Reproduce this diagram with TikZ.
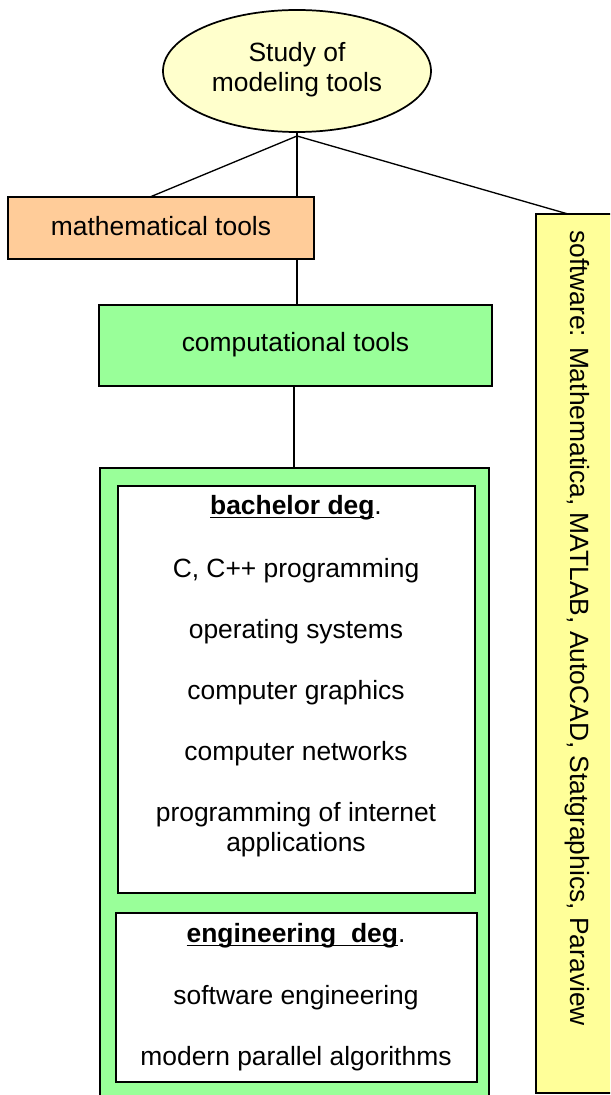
\documentclass[tikz,border=0pt]{standalone}
\usepackage{fontspec}
\setmainfont{Liberation Sans}
\usetikzlibrary{shapes.geometric,backgrounds}
\definecolor{rootfill}{HTML}{FFFFCC}
\definecolor{mathfill}{HTML}{FFCC99}
\definecolor{compfill}{HTML}{99FF99}
\definecolor{softfill}{HTML}{FFFF99}
% bold heading with a heavy underline drawn through the descenders
\newcommand{\headline}[1]{\leavevmode\rlap{\rule[-2.6pt]{\widthof{\textbf{#1}}}{1.2pt}}\textbf{#1}}
\usepackage{calc}
\tikzset{
  every node/.style={font=\fontsize{19.8pt}{22.5pt}\selectfont, inner sep=0pt},
  box/.style={draw=black, line width=1.3pt, rectangle, align=center},
  link/.style={draw=black, line width=1pt},
  item/.style={align=center, anchor=center},
}
\begin{document}
\begin{tikzpicture}[x=0.75pt, y=-0.75pt]
\useasboundingbox (0,0) rectangle (610,1095);
\clip (0,0) rectangle (610,1095);

% top ellipse
\node[ellipse, draw=black, line width=1.3pt, fill=rootfill, align=center,
      minimum width=268*0.75pt, minimum height=122*0.75pt] (root) at (297,71) {};
\node[item] (roottxt) at (297,70) {Study of\\modeling tools};

% first-level boxes
\node[box, fill=mathfill, minimum width=306*0.75pt, minimum height=62*0.75pt] (math) at (161,228) {};
\node[item] (mathtxt) at (161,226) {mathematical tools};

\node[box, fill=compfill, minimum width=393*0.75pt, minimum height=81*0.75pt] (comp) at (295.5,345.5) {};
\node[item] (comptxt) at (295.5,345) {computational tools};

\node[box, fill=softfill, minimum width=89*0.75pt, minimum height=879*0.75pt] (soft) at (580.5,653.5) {};
\node[item, rotate=-90] (softtxt) at (577,628) {software: Mathematica, MATLAB, AutoCAD, Statgraphics, Paraview};

% green container with the two course lists
\node[box, fill=compfill, minimum width=389*0.75pt, minimum height=650*0.75pt] (courses) at (294.5,793) {};
\node[box, fill=white, minimum width=357*0.75pt, minimum height=407*0.75pt] (bach) at (296.5,689.5) {};
\node[box, fill=white, minimum width=361*0.75pt, minimum height=169*0.75pt] (eng) at (296.5,997.5) {};

\node[item] (b0) at (296,508) {\headline{bachelor deg}.};
\node[item] (b1) at (296,571) {C, C++ programming};
\node[item] (b2) at (296,632) {operating systems};
\node[item] (b3) at (296,693) {computer graphics};
\node[item] (b4) at (296,754) {computer networks};
\node[item] (b5) at (296,830) {programming of internet\\applications};

\node[item] (e0) at (296,936) {\headline{engineering\hspace{0.56em}deg}.};
\node[item] (e1) at (296,998) {software engineering};
\node[item] (e2) at (296,1059) {modern parallel algorithms};

% connectors
\coordinate (hub) at (297,136);
\coordinate (mathin) at (150,197);
\coordinate (softin) at (568,214);
\begin{pgfonlayer}{background}
  \draw[link] (root.south) -- (hub);
  \draw[link] (hub) -- (mathin);
  \draw[link] (hub) -- (comp.north -| hub);
  \draw[link] (hub) -- (softin);
  \draw[link] (comp.south -| 294,0) -- (courses.north -| 294,0);
\end{pgfonlayer}
\end{tikzpicture}
\end{document}
